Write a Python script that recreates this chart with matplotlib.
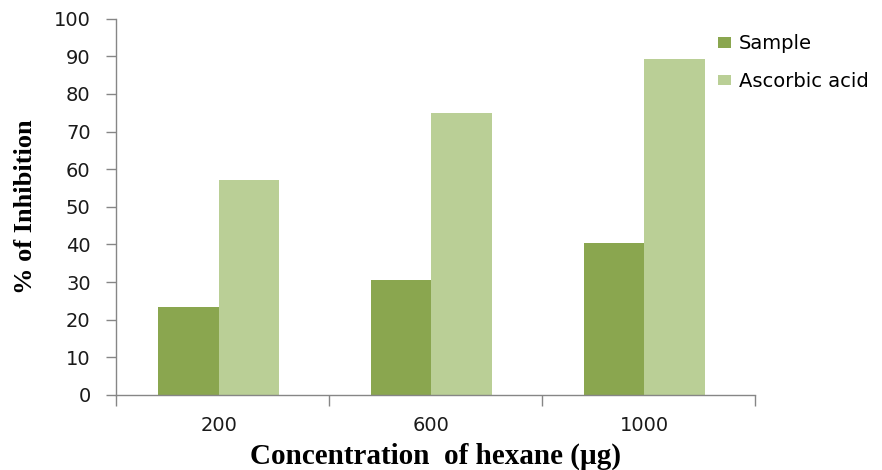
import numpy as np
import matplotlib.pyplot as plt
from matplotlib.ticker import FixedLocator

# % inhibition by hexane extract concentration
concentrations = ['200', '600', '1000']
sample = [23.3, 30.5, 40.3]
ascorbic_acid = [57.0, 75.0, 89.4]

sample_color = '#8aa64f'
ascorbic_color = '#bacf96'
axis_color = '#868686'
text_color = '#1a1a1a'

fig = plt.figure(figsize=(8.82, 4.70), dpi=100)
ax = fig.add_axes([0.132, 0.160, 0.724, 0.800])

# groups sit slightly left of the category centre
x = np.arange(len(concentrations)) - 0.02
w = 0.285
ax.bar(x - w / 2, sample, width=w, color=sample_color, label='Sample')
ax.bar(x + w / 2, ascorbic_acid, width=w, color=ascorbic_color, label='Ascorbic acid')

ax.set_xlim(-0.5, len(concentrations) - 0.5)
ax.set_ylim(0, 100)
ax.set_yticks(range(0, 101, 10))

# category labels centred, tick marks at the category boundaries
ax.set_xticks(x)
ax.set_xticklabels(concentrations, fontsize=14, family='DejaVu Sans', color=text_color)
ax.tick_params(axis='x', length=0, pad=15)
ax.xaxis.set_minor_locator(FixedLocator(np.arange(-0.5, len(concentrations), 1.0)))
ax.tick_params(axis='x', which='minor', length=8, color=axis_color, width=1)

ax.tick_params(axis='y', length=7.5, color=axis_color, width=1, pad=11)
for lbl in ax.get_yticklabels():
    lbl.set_fontsize(14)
    lbl.set_family('DejaVu Sans')
    lbl.set_color(text_color)

for side in ['top', 'right']:
    ax.spines[side].set_visible(False)
for side in ['left', 'bottom']:
    ax.spines[side].set_color(axis_color)
    ax.spines[side].set_linewidth(1)

ax.set_xlabel('Concentration  of hexane (\u00b5g)', fontsize=21, fontweight='bold',
              family='Liberation Serif', labelpad=6)
ax.set_ylabel('% of Inhibition', fontsize=19, fontweight='bold',
              family='Liberation Serif', labelpad=12)

leg = ax.legend(loc='upper left', bbox_to_anchor=(0.915, 1.005), frameon=False,
                prop={'family': 'DejaVu Sans', 'size': 14}, handlelength=0.65,
                handleheight=0.45, handletextpad=0.4, labelspacing=0.95)

fig.savefig('out.png', dpi=100)
